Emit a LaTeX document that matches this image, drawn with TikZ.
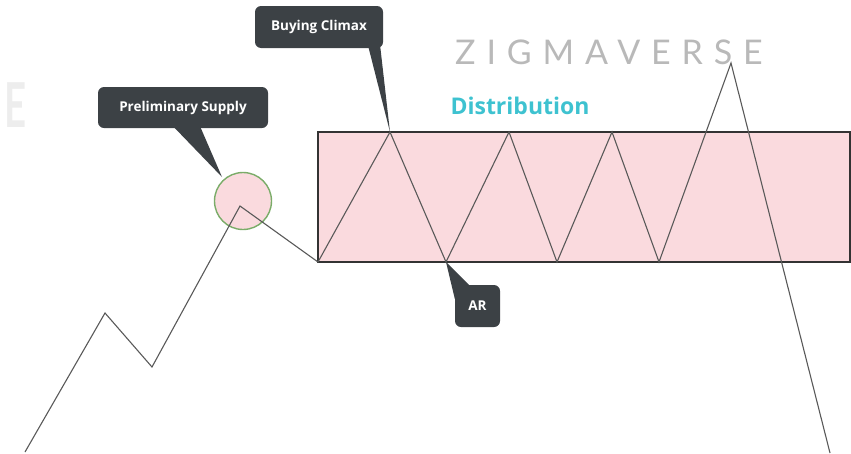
\documentclass[tikz,border=0pt]{standalone}
\usepackage{fontspec}
\setmainfont{Open Sans}
\newfontfamily\zigfont{Lato}
\usetikzlibrary{calc}
\definecolor{rangecolor}{RGB}{250,218,222}
\definecolor{tagcolor}{RGB}{60,65,69}
\definecolor{ringcolor}{RGB}{122,172,104}
\definecolor{distcolor}{RGB}{62,194,208}
\definecolor{markcolor}{RGB}{185,185,185}
\tikzset{
  tag/.style={fill=tagcolor, rounded corners=6pt, text=white, inner sep=0pt,
    font=\bfseries\fontsize{13.5}{15}\selectfont},
  price/.style={draw=black!65, line width=1.1pt, line join=miter},
}
\begin{document}
\begin{tikzpicture}[x=1pt, y=-1pt]
    \useasboundingbox (0,0) rectangle (851,453);
    \def\rangeleft{318}
    \def\rangeright{850}
    \def\rangetop{132}
    \def\rangebottom{262}
    \node[text=black!7, font=\zigfont\bfseries\fontsize{62}{62}\selectfont, xscale=0.62, anchor=west, inner sep=0pt] (ghost) at (4,105) {E};
    \node[text=markcolor, font=\zigfont\addfontfeature{LetterSpace=32}\fontsize{34}{34}\selectfont] (brand) at (609,52) {ZIGMAVERSE};
    \node[text=distcolor, font=\bfseries\fontsize{23}{26}\selectfont, anchor=west] (dist) at (447,106) {Distribution};
    \draw[fill=rangecolor, draw=black!80, line width=1.5pt] (\rangeleft,\rangetop) rectangle (\rangeright,\rangebottom);
    \node[draw=ringcolor, fill=rangecolor, line width=1.4pt, shape=circle, minimum size=57pt, inner sep=0pt] (ring) at (243,201) {};
    \coordinate (p0) at (25,452);
    \coordinate (p1) at (105,313);
    \coordinate (p2) at (152,367);
    \coordinate (p3) at (240,206);
    \coordinate (p4) at (\rangeleft,\rangebottom);
    \coordinate (p5) at (390,\rangetop);
    \coordinate (p6) at (446,\rangebottom);
    \coordinate (p7) at (509,\rangetop);
    \coordinate (p8) at (557,\rangebottom);
    \coordinate (p9) at (612,\rangetop);
    \coordinate (p10) at (659,\rangebottom);
    \coordinate (p11) at (731,63);
    \coordinate (p12) at (830,453);
    \draw[price] (p0) -- (p1) -- (p2) -- (p3) -- (p4) -- (p5) -- (p6) -- (p7) -- (p8) -- (p9) -- (p10) -- (p11) -- (p12);
    \node[tag, minimum width=128pt, minimum height=42pt] (bc) at (319,27) {Buying Climax};
    \fill[tagcolor] ($(bc.south east)+(-15,-2)$) -- (p5) -- ($(bc.south east)+(-3,-2)$) -- cycle;
    \node[tag, minimum width=170pt, minimum height=41pt] (ps) at (183,107.5) {Preliminary Supply};
    \coordinate (pstip) at (222,177);
    \fill[tagcolor] ($(ps.south)+(-10,-2)$) -- (pstip) -- ($(ps.south)+(17,-2)$) -- cycle;
    \node[tag, minimum width=45pt, minimum height=42pt] (ar) at (477.5,306) {AR};
    \fill[tagcolor] ($(ar.north west)+(0,14)$) -- (p6) -- ($(ar.north west)+(14,0)$) -- cycle;
\end{tikzpicture}
\end{document}
